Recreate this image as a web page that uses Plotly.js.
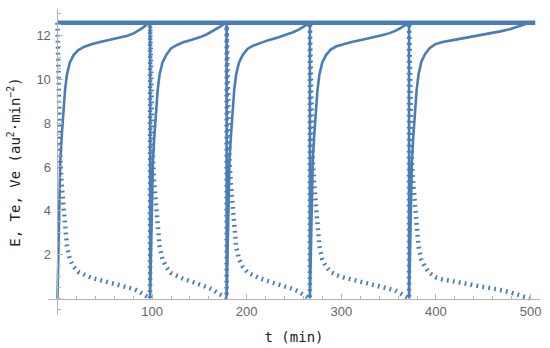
<!DOCTYPE html>
<html>
<head>
<meta charset="utf-8">
<script src="https://cdn.plot.ly/plotly-3.0.1.min.js"></script>
<style>html,body{margin:0;padding:0;background:#fff}#chart{width:550px;height:348px}</style>
</head>
<body>
<div id="chart"></div>
<script>
// E (constant)
const tE = [0, 505];
const vE = [12.57, 12.57];

// Te, cycle by cycle
const tTe1 = [0, 1, 2, 3, 4.5, 6, 8, 10, 13, 17, 22, 28, 35, 45, 55, 65, 74, 81, 86, 90, 93.5, 96, 97.9];
const vTe1 = [0, 2.3, 4.5, 6.3, 7.4, 8.3, 9.5, 10.2, 10.75, 11.1, 11.33, 11.47, 11.58, 11.7, 11.79, 11.88, 11.98, 12.1, 12.22, 12.34, 12.46, 12.54, 12.57];
const tTe2 = [97.9, 98.9, 99.9, 100.9, 102.4, 103.9, 105.9, 107.9, 110.9, 114.9, 119.9, 125.9, 132.9, 142, 151, 158, 164, 168, 171.5, 174.5, 177, 178.8];
const vTe2 = [0, 2.3, 4.5, 6.3, 7.4, 8.3, 9.5, 10.2, 10.75, 11.1, 11.4, 11.55, 11.68, 11.8, 11.92, 12.05, 12.18, 12.28, 12.38, 12.48, 12.54, 12.57];
const tTe3 = [178.8, 179.8, 180.8, 181.8, 183.3, 184.8, 186.8, 188.8, 191.8, 195.8, 200.8, 206.8, 213.8, 223, 233, 242, 249, 254.5, 258.5, 262, 264.8, 266.8];
const vTe3 = [0, 2.3, 4.5, 6.3, 7.4, 8.3, 9.5, 10.2, 10.75, 11.1, 11.38, 11.53, 11.65, 11.78, 11.9, 12.02, 12.14, 12.25, 12.36, 12.47, 12.54, 12.57];
const tTe4 = [266.8, 267.8, 268.8, 269.8, 271.3, 272.8, 274.8, 276.8, 279.8, 283.8, 288.8, 294.8, 301.8, 311, 322, 333, 343, 351, 357, 362, 366, 369.3, 371.6];
const vTe4 = [0, 2.3, 4.5, 6.3, 7.4, 8.3, 9.5, 10.2, 10.75, 11.1, 11.35, 11.5, 11.6, 11.7, 11.8, 11.9, 12.0, 12.1, 12.2, 12.32, 12.44, 12.53, 12.57];
const tTe5 = [371.6, 372.6, 373.6, 374.6, 376.1, 377.6, 379.6, 381.6, 384.6, 388.6, 393.6, 399.6, 407, 418, 430, 443, 456, 468, 478, 486, 492, 496, 499];
const vTe5 = [0, 2.3, 4.5, 6.3, 7.4, 8.3, 9.5, 10.2, 10.8, 11.15, 11.42, 11.6, 11.7, 11.78, 11.87, 11.97, 12.08, 12.18, 12.28, 12.38, 12.47, 12.53, 12.57];

// Ve, cycle by cycle (dotted)
const tVe1 = tTe1;
const vVe1 = [12.57, 10.3, 8.1, 6.3, 5.2, 4.3, 3.1, 2.4, 1.8, 1.45, 1.22, 1.08, 0.96, 0.84, 0.74, 0.64, 0.55, 0.43, 0.32, 0.2, 0.09, 0.03, 0];
const tVe2 = tTe2;
const vVe2 = [12.57, 10.3, 8.1, 6.3, 5.2, 4.3, 3.1, 2.4, 1.8, 1.45, 1.17, 1.02, 0.9, 0.77, 0.65, 0.52, 0.4, 0.3, 0.2, 0.1, 0.04, 0];
const tVe3 = tTe3;
const vVe3 = [12.57, 10.3, 8.1, 6.3, 5.2, 4.3, 3.1, 2.4, 1.8, 1.45, 1.19, 1.04, 0.92, 0.79, 0.67, 0.55, 0.43, 0.32, 0.21, 0.1, 0.04, 0];
const tVe4 = tTe4;
const vVe4 = [12.57, 10.3, 8.1, 6.3, 5.2, 4.3, 3.1, 2.4, 1.8, 1.45, 1.22, 1.07, 0.97, 0.87, 0.77, 0.67, 0.57, 0.47, 0.37, 0.25, 0.13, 0.05, 0];
const tVe5 = tTe5;
const vVe5 = [12.57, 10.3, 8.1, 6.3, 5.2, 4.3, 3.1, 2.4, 1.77, 1.42, 1.15, 0.97, 0.87, 0.79, 0.7, 0.6, 0.49, 0.39, 0.29, 0.19, 0.1, 0.04, 0];

const xTicks = [100, 200, 300, 400, 500];
const yTicks = [2, 4, 6, 8, 10, 12];

const blue = '#4a7cb8';
const tTe = [].concat(tTe1, tTe2, tTe3, tTe4, tTe5);
const vTe = [].concat(vTe1, vTe2, vTe3, vTe4, vTe5);
const tVe = [].concat(tVe1, tVe2, tVe3, tVe4, tVe5);
const vVe = [].concat(vVe1, vVe2, vVe3, vVe4, vVe5);

const xr = [-10, 510], yr = [-0.75, 13.2];

const data = [
  {x: tVe, y: vVe, mode: 'lines', name: 'Ve', line: {color: blue, width: 4.5, dash: '1.8px,4.2px'}, hoverinfo: 'skip'},
  {x: tTe, y: vTe, mode: 'lines', name: 'Te', line: {color: blue, width: 2.6}, hoverinfo: 'skip'},
  {x: tE, y: vE, mode: 'lines', name: 'E', line: {color: blue, width: 4.5}, hoverinfo: 'skip'}
];

const axisFont = {family: 'Liberation Sans, Arial, sans-serif', size: 13, color: '#666'};
const titleFont = {family: 'DejaVu Sans Mono, monospace', size: 14, color: '#222'};

const layout = {
  width: 550, height: 348,
  margin: {l: 48, r: 9.5, t: 8.6, b: 32.5},
  paper_bgcolor: '#fff', plot_bgcolor: '#fff',
  showlegend: false,
  xaxis: {
    range: xr, anchor: 'free', position: (0 - yr[0]) / (yr[1] - yr[0]),
    showgrid: false, zeroline: false, showline: true, linecolor: '#b5b5b5', linewidth: 1,
    tickmode: 'array', tickvals: xTicks, ticks: 'inside', ticklen: 5, tickcolor: '#b5b5b5',
    minor: {tickmode: 'linear', tick0: 0, dtick: 20, ticklen: 3, tickcolor: '#b5b5b5', ticks: 'inside'},
    tickfont: axisFont, ticklabelstandoff: 1,
    title: {text: 't (min)', font: titleFont, standoff: 14}
  },
  yaxis: {
    range: yr, anchor: 'free', position: (0 - xr[0]) / (xr[1] - xr[0]),
    showgrid: false, zeroline: false, showline: true, linecolor: '#b5b5b5', linewidth: 1,
    tickmode: 'array', tickvals: yTicks, ticks: 'inside', ticklen: 5, tickcolor: '#b5b5b5',
    minor: {tickmode: 'linear', tick0: 0, dtick: 0.5, ticklen: 3, tickcolor: '#b5b5b5', ticks: 'inside'},
    tickfont: axisFont, ticklabelstandoff: 4,
    title: {text: 'E, Te, Ve (au<sup>2</sup>·min<sup>−2</sup>)', font: titleFont, standoff: 11}
  }
};

Plotly.newPlot('chart', data, layout, {staticPlot: true, displayModeBar: false});
</script>
</body>
</html>
